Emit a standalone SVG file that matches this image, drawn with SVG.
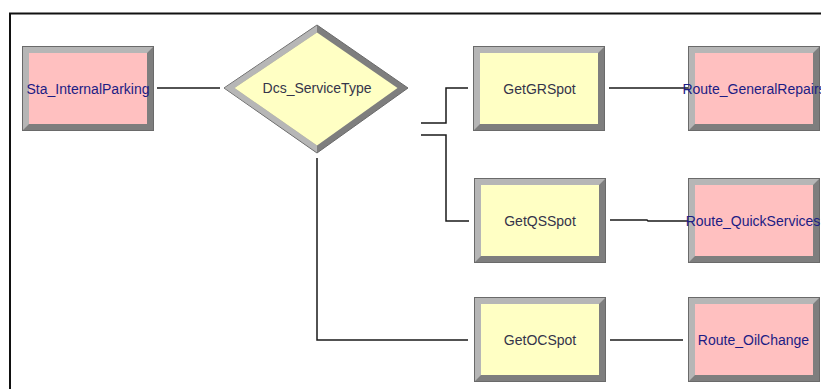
<svg xmlns="http://www.w3.org/2000/svg" width="821" height="389" viewBox="0 0 821 389">
  <style>
    .frame { fill: none; stroke: #111; stroke-width: 2; }
    .link { fill: none; stroke: #1a1a1a; stroke-width: 1.5; }
    .shade { fill: #7e7e7e; stroke: #6a6a6a; stroke-width: 1; }
    .lit { fill: #b6b6b6; }
    .fill-pink { fill: #ffc0c0; }
    .fill-yellow { fill: #ffffc4; }
    .label { font-family: "Liberation Sans", Arial, sans-serif; font-size: 14px; text-anchor: middle; }
    .navy { fill: #1c1c84; }
    .slate { fill: #34344a; }
  </style>
  <defs>
    <!-- bevelled module frame, 132 x 85 -->
    <g id="bevel">
      <rect class="shade" x="0.5" y="0.5" width="131" height="84"/>
      <polygon class="lit" points="1,1 131,1 125,7 7,7 7,78 1,84"/>
    </g>
  </defs>

  <rect width="821" height="389" fill="#ffffff"/>
  <path class="frame" d="M10,389 V13.5 H821"/>

  <g id="connectors">
    <path class="link" d="M157,88 H220"/>
    <path class="link" d="M421,123 H446 V88 H468"/>
    <path class="link" d="M421,135 H446 V221 H469"/>
    <path class="link" d="M317,158 V340 H468"/>
    <path class="link" d="M609,88 H690"/>
    <path class="link" d="M610,220 H647 L648,221 H688"/>
    <path class="link" d="M610,340 H683"/>
  </g>

  <g id="Sta_InternalParking" transform="translate(22,46)">
    <use href="#bevel"/>
    <rect class="fill-pink" x="7" y="7" width="118" height="71"/>
    <text class="label navy" x="66" y="47.5">Sta_InternalParking</text>
  </g>

  <g id="Dcs_ServiceType">
    <polygon class="shade" points="224,88 317,25 408,88 317,153"/>
    <polygon class="lit" points="224.5,88 317,25.5 317,32.5 234.5,88 317,145.5 317,152.5"/>
    <polygon class="fill-yellow" points="234.5,88 317,32.5 397.5,88 317,145.5"/>
    <text class="label slate" x="317" y="93">Dcs_ServiceType</text>
  </g>

  <g id="GetGRSpot" transform="translate(473,46)">
    <use href="#bevel"/>
    <rect class="fill-yellow" x="7" y="7" width="118" height="71"/>
    <text class="label slate" x="66.5" y="47.5">GetGRSpot</text>
  </g>

  <g id="Route_GeneralRepairs" transform="translate(688,46)">
    <use href="#bevel"/>
    <rect class="fill-pink" x="7" y="7" width="118" height="71"/>
    <text class="label navy" x="66" y="47.5">Route_GeneralRepairs</text>
  </g>

  <g id="GetQSSpot" transform="translate(474,178)">
    <use href="#bevel"/>
    <rect class="fill-yellow" x="7" y="7" width="118" height="71"/>
    <text class="label slate" x="66" y="47.5">GetQSSpot</text>
  </g>

  <g id="Route_QuickServices" transform="translate(688,178)">
    <use href="#bevel"/>
    <rect class="fill-pink" x="7" y="7" width="118" height="71"/>
    <text class="label navy" x="65" y="47.5">Route_QuickServices</text>
  </g>

  <g id="GetOCSpot" transform="translate(474,297)">
    <use href="#bevel"/>
    <rect class="fill-yellow" x="7" y="7" width="118" height="71"/>
    <text class="label slate" x="66" y="47.5">GetOCSpot</text>
  </g>

  <g id="Route_OilChange" transform="translate(688,297)">
    <use href="#bevel"/>
    <rect class="fill-pink" x="7" y="7" width="118" height="71"/>
    <text class="label navy" x="65.5" y="47.5">Route_OilChange</text>
  </g>
</svg>
